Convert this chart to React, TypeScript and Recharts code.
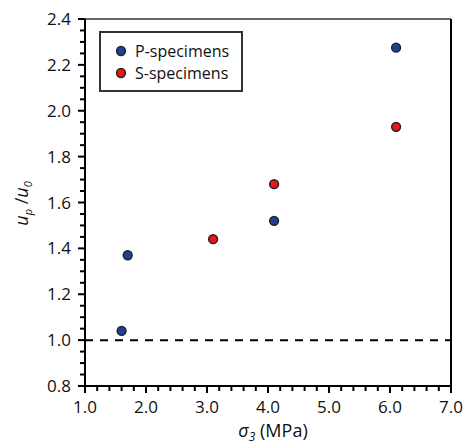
import React from "react";
import {
  ScatterChart,
  Scatter,
  XAxis,
  YAxis,
  ReferenceLine,
  Legend,
} from "recharts";

// ---- data ----
const pSigma = [1.6, 1.7, 4.1, 6.1];
const pRatio = [1.04, 1.37, 1.52, 2.275];
const sSigma = [3.1, 4.1, 6.1];
const sRatio = [1.44, 1.68, 1.93];

const xTicks = [
  1.0, 1.2, 1.4, 1.6, 1.8, 2.0, 2.2, 2.4, 2.6, 2.8, 3.0, 3.2, 3.4, 3.6, 3.8,
  4.0, 4.2, 4.4, 4.6, 4.8, 5.0, 5.2, 5.4, 5.6, 5.8, 6.0, 6.2, 6.4, 6.6, 6.8,
  7.0,
];
const xMajor = [1.0, 2.0, 3.0, 4.0, 5.0, 6.0, 7.0];
const yTicks = [
  0.8, 0.85, 0.9, 0.95, 1.0, 1.05, 1.1, 1.15, 1.2, 1.25, 1.3, 1.35, 1.4, 1.45,
  1.5, 1.55, 1.6, 1.65, 1.7, 1.75, 1.8, 1.85, 1.9, 1.95, 2.0, 2.05, 2.1, 2.15,
  2.2, 2.25, 2.3, 2.35, 2.4,
];
const yMajor = [0.8, 1.0, 1.2, 1.4, 1.6, 1.8, 2.0, 2.2, 2.4];

const pData = pSigma.map((x, i) => ({ x, y: pRatio[i] }));
const sData = sSigma.map((x, i) => ({ x, y: sRatio[i] }));

const FONT = "'Open Sans', sans-serif";
const BLUE = "#1f3f9a";
const RED = "#e8171b";
const TXT = "#111";
const TICK = "#000";

const isIn = (arr: number[], v: number) => arr.some((a) => Math.abs(a - v) < 1e-6);

const XTick = (props: any) => {
  const { x, y, payload } = props;
  const v = Number(payload.value);
  const major = isIn(xMajor, v);
  return (
    <g>
      <line x1={x} x2={x} y1={y} y2={y + (major ? 7 : 5)} stroke={TICK} strokeWidth={2} />
      {major && (
        <text x={x} y={y + 27} textAnchor="middle" fontFamily={FONT} fontSize={17} fill={TXT}>
          {v.toFixed(1)}
        </text>
      )}
    </g>
  );
};

const YTick = (props: any) => {
  const { x, y, payload } = props;
  const v = Number(payload.value);
  const major = isIn(yMajor, v);
  return (
    <g>
      <line x1={x} x2={x - (major ? 7 : 5)} y1={y} y2={y} stroke={TICK} strokeWidth={2} />
      {major && (
        <text x={x - 14} y={y + 6} textAnchor="end" fontFamily={FONT} fontSize={17} fill={TXT}>
          {v.toFixed(1)}
        </text>
      )}
    </g>
  );
};

const Dot = (color: string) => (props: any) => {
  const { cx, cy } = props;
  if (cx == null || cy == null) return <g />;
  return <circle cx={cx} cy={cy} r={4.4} fill={color} stroke="#222" strokeWidth={1.5} />;
};

const YLabel = (props: any) => {
  const vb = props.viewBox || { x: 25, y: 19, width: 60, height: 367 };
  const cx = 28;
  const cy = vb.y + vb.height / 2 + 1;
  return (
    <text
      x={cx}
      y={cy}
      transform={`rotate(-90, ${cx}, ${cy})`}
      textAnchor="middle"
      fontFamily={FONT}
      fontSize={18}
      fill={TXT}
    >
      <tspan fontStyle="italic">u</tspan>
      <tspan fontStyle="italic" fontSize={11} dy={4}>p</tspan>
      <tspan dy={-4}> /</tspan>
      <tspan fontStyle="italic">u</tspan>
      <tspan fontStyle="italic" fontSize={11} dy={4}>0</tspan>
    </text>
  );
};

const XLabel = (props: any) => {
  const vb = props.viewBox || { x: 85, y: 386, width: 366, height: 30 };
  const cx = vb.x + vb.width / 2 + 5;
  return (
    <text x={cx} y={437} textAnchor="middle" fontFamily={FONT} fontSize={18} fill={TXT}>
      <tspan fontStyle="italic">σ</tspan>
      <tspan fontStyle="italic" fontSize={12} dy={4}>3</tspan>
      <tspan dy={-4}> (MPa)</tspan>
    </text>
  );
};

const LegendBox = (props: any) => {
  const payload = props.payload || [];
  return (
    <div
      style={{
        position: "relative",
        width: 144,
        height: 61,
        boxSizing: "border-box",
        border: "2px solid #333",
        background: "#fff",
        fontFamily: FONT,
        fontSize: 16,
        color: TXT,
      }}
    >
      {payload.map((p: any, i: number) => (
        <div
          key={i}
          style={{
            position: "absolute",
            left: 0,
            top: 7 + i * 21.6,
            height: 22,
            display: "flex",
            alignItems: "center",
            whiteSpace: "nowrap",
          }}
        >
          <svg width={34} height={22} style={{ display: "block" }}>
            <circle cx={20} cy={11} r={4.4} fill={p.color} stroke="#222" strokeWidth={1.5} />
          </svg>
          <span style={{ lineHeight: "22px" }}>{p.value}</span>
        </div>
      ))}
    </div>
  );
};

export default function App() {
  return (
    <div style={{ position: "absolute", left: 0, top: 0, background: "#fff" }}>
      <ScatterChart
        width={463}
        height={444}
        margin={{ top: 19, right: 12, left: 25, bottom: 28 }}
      >
        <ReferenceLine y={2.4} stroke="#333" strokeWidth={1.5} />
        <ReferenceLine x={7} stroke="#000" strokeWidth={2} />
        <ReferenceLine y={1} stroke="#000" strokeWidth={2} strokeDasharray="8 7" />
        <Legend
          layout="vertical"
          align="center"
          verticalAlign="middle"
          content={<LegendBox />}
          wrapperStyle={{ position: "absolute", left: 99, top: 31, width: 144, height: 61 }}
        />
        <Scatter
          name="P-specimens"
          data={pData}
          fill={BLUE}
          shape={Dot(BLUE)}
          isAnimationActive={false}
        />
        <Scatter
          name="S-specimens"
          data={sData}
          fill={RED}
          shape={Dot(RED)}
          isAnimationActive={false}
        />
        <XAxis
          type="number"
          dataKey="x"
          domain={[1, 7]}
          ticks={xTicks}
          interval={0}
          tickLine={false}
          tickSize={0}
          tickMargin={0}
          tick={<XTick />}
          axisLine={{ stroke: "#000", strokeWidth: 2 }}
          height={30}
          allowDataOverflow
          label={{ content: <XLabel /> } as any}
        />
        <YAxis
          type="number"
          dataKey="y"
          domain={[0.8, 2.4]}
          ticks={yTicks}
          interval={0}
          tickLine={false}
          tickSize={0}
          tickMargin={0}
          tick={<YTick />}
          axisLine={{ stroke: "#000", strokeWidth: 2 }}
          width={60}
          allowDataOverflow
          label={{ content: <YLabel /> } as any}
        />
      </ScatterChart>
    </div>
  );
}
